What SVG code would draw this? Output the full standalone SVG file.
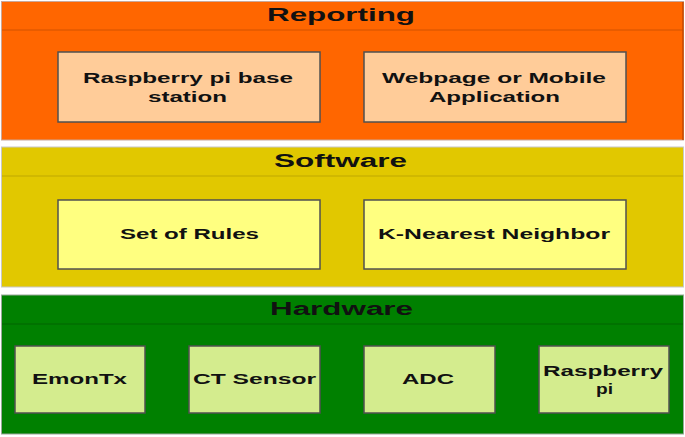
<svg xmlns="http://www.w3.org/2000/svg" width="685" height="437" viewBox="0 0 685 437">
<style>
  .panel { stroke-width: 1; }
  .hdr { font-family: "Liberation Sans", Arial, sans-serif; font-weight: bold; font-size: 18px; fill: #111; }
  .lbl { font-family: "Liberation Sans", Arial, sans-serif; font-weight: bold; font-size: 14px; fill: #111; }
  .box { stroke: #505050; stroke-width: 1.5; }
  .rep { fill: #FF6600; stroke: #C9A89A; }
  .sw { fill: #E1C800; stroke: #C8C8C8; }
  .hw { fill: #008000; stroke: #9AA89A; }
  .repbox { fill: #FFCC99; }
  .swbox { fill: #FFFF80; }
  .hwbox { fill: #D4EC8E; }
</style>
<rect width="685" height="437" fill="#FFFFFF"/>

<g id="reporting">
  <rect class="panel rep" x="1.5" y="1.5" width="682" height="138.5"/>
  <line x1="2" y1="30" x2="683" y2="30" stroke="#D25200" stroke-width="1"/>
  <line x1="683" y1="2" x2="683" y2="140" stroke="#C44A00" stroke-width="1.5"/>
  <text class="hdr" x="267" y="21" textLength="148" lengthAdjust="spacingAndGlyphs">Reporting</text>
</g>
<g id="rpi-base-station">
  <rect class="box repbox" x="58" y="52" width="262" height="70"/>
  <text class="lbl" x="83" y="83" textLength="210" lengthAdjust="spacingAndGlyphs">Raspberry pi base</text>
  <text class="lbl" x="148" y="102" textLength="79" lengthAdjust="spacingAndGlyphs">station</text>
</g>
<g id="webpage-app">
  <rect class="box repbox" x="364" y="52" width="262" height="70"/>
  <text class="lbl" x="382" y="83" textLength="224" lengthAdjust="spacingAndGlyphs">Webpage or Mobile</text>
  <text class="lbl" x="429" y="102" textLength="131" lengthAdjust="spacingAndGlyphs">Application</text>
</g>

<g id="software">
  <rect class="panel sw" x="1.5" y="147" width="682" height="140"/>
  <line x1="2" y1="176" x2="683" y2="176" stroke="#BFA800" stroke-width="1"/>
  <text class="hdr" x="274" y="167" textLength="133" lengthAdjust="spacingAndGlyphs">Software</text>
</g>
<g id="set-of-rules">
  <rect class="box swbox" x="58" y="200" width="262" height="69"/>
  <text class="lbl" x="120" y="239" textLength="139" lengthAdjust="spacingAndGlyphs">Set of Rules</text>
</g>
<g id="knn">
  <rect class="box swbox" x="364" y="200" width="262" height="69"/>
  <text class="lbl" x="378" y="239" textLength="232" lengthAdjust="spacingAndGlyphs">K-Nearest Neighbor</text>
</g>

<g id="hardware">
  <rect class="panel hw" x="1.5" y="295" width="682" height="139"/>
  <line x1="2" y1="324" x2="683" y2="324" stroke="#006400" stroke-width="1"/>
  <text class="hdr" x="270" y="315" textLength="143" lengthAdjust="spacingAndGlyphs">Hardware</text>
</g>
<g id="emontx">
  <rect class="box hwbox" x="15" y="346" width="130" height="67"/>
  <text class="lbl" x="32" y="384" textLength="95" lengthAdjust="spacingAndGlyphs">EmonTx</text>
</g>
<g id="ct-sensor">
  <rect class="box hwbox" x="189" y="346" width="131" height="67"/>
  <text class="lbl" x="193" y="384" textLength="123" lengthAdjust="spacingAndGlyphs">CT Sensor</text>
</g>
<g id="adc">
  <rect class="box hwbox" x="364" y="346" width="131" height="67"/>
  <text class="lbl" x="402" y="384" textLength="52" lengthAdjust="spacingAndGlyphs">ADC</text>
</g>
<g id="raspberry-pi">
  <rect class="box hwbox" x="539" y="346" width="130" height="67"/>
  <text class="lbl" x="543" y="376" textLength="120" lengthAdjust="spacingAndGlyphs">Raspberry</text>
  <text class="lbl" x="596" y="394" textLength="17" lengthAdjust="spacingAndGlyphs">pi</text>
</g>

<g id="connectors"/>
</svg>
